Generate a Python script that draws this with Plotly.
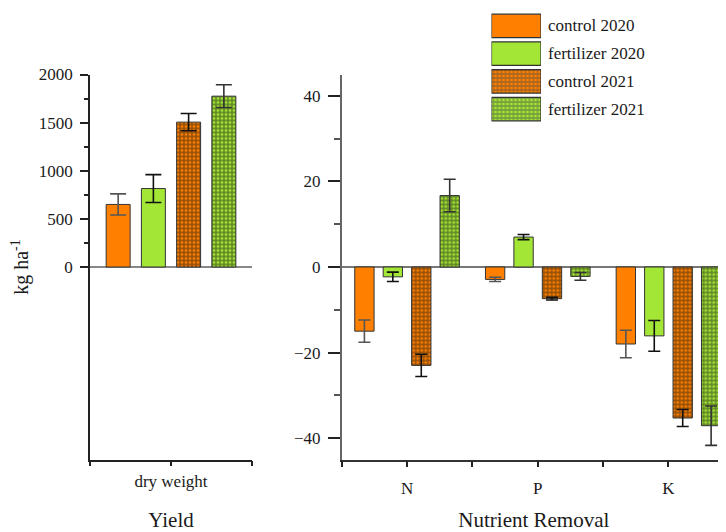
import plotly.graph_objects as go

# ---------------- data ----------------
series_names = ["control 2020", "fertilizer 2020", "control 2021", "fertilizer 2021"]
series_colors = ["#FF8000", "#A3E635", "#FF8000", "#A3E635"]
series_pattern = ["", "", "+", "+"]
err_colors = ["#555555", "#111111", "#111111", "#333333"]

yield_category = ["dry weight"]
yield_values = [[650], [815], [1505], [1775]]
yield_errors = [[110], [145], [90], [118]]

nutrient_categories = ["N", "P", "K"]
nutrient_values = [
    [-15.0, -2.9, -18.0],
    [-2.3, 7.0, -16.1],
    [-23.0, -7.4, -35.3],
    [16.7, -2.2, -37.1],
]
nutrient_errors = [
    [2.6, 0.5, 3.2],
    [1.1, 0.6, 3.6],
    [2.6, 0.3, 2.0],
    [3.8, 0.9, 4.6],
]

yield_ticks = [0, 500, 1000, 1500, 2000]
yield_minor = [250, 750, 1250, 1750]
nutrient_ticks = [-40, -20, 0, 20, 40]
nutrient_minor = [-30, -10, 10, 30]

FONT = "Liberation Serif, Times New Roman, serif"
# page body has an 8px margin: figure sized so it ends at the window edge
OFF = 8
W, H = 726 - OFF, 532 - OFF


def px(x):
    return (x - OFF) / W


def py(y):
    return 1 - (y - OFF) / H


fig = go.Figure()


def pattern(i):
    if series_pattern[i]:
        return dict(shape=series_pattern[i], fgcolor="#141414", bgcolor=series_colors[i],
                    size=4, solidity=0.55, fillmode="overlay")
    return dict(shape="")


for i, name in enumerate(series_names):
    fig.add_trace(go.Bar(
        x=list(range(len(yield_category))), y=yield_values[i], name=name,
        marker=dict(color=series_colors[i], line=dict(color="#333333", width=1), pattern=pattern(i)),
        error_y=dict(type="data", array=yield_errors[i], color=err_colors[i], thickness=1.6, width=8),
        xaxis="x", yaxis="y", showlegend=False,
    ))

for i, name in enumerate(series_names):
    fig.add_trace(go.Bar(
        x=list(range(len(nutrient_categories))), y=nutrient_values[i], name=name,
        marker=dict(color=series_colors[i], line=dict(color="#333333", width=1), pattern=pattern(i)),
        error_y=dict(type="data", array=nutrient_errors[i], color=err_colors[i], thickness=1.6, width=6),
        xaxis="x2", yaxis="y2", showlegend=False,
    ))

# legend swatches (one bar per series on a hidden axis)
fig.add_trace(go.Bar(
    y=list(range(len(series_names))), x=[1] * len(series_names), orientation="h", width=0.84,
    marker=dict(color=series_colors, line=dict(color="#333333", width=1.2),
                pattern=dict(shape=series_pattern, fgcolor="#141414", bgcolor=series_colors,
                             size=4, solidity=0.55, fillmode="overlay")),
    xaxis="x3", yaxis="y3", showlegend=False, hoverinfo="skip",
))

ydom = [py(459.5), py(74.5)]
tickfont = dict(family=FONT, size=17, color="#1a1a1a")
titlefont = dict(family=FONT, size=21, color="#1a1a1a")

fig.update_layout(
    template="none",
    width=W, height=H,
    margin=dict(l=0, r=0, t=0, b=0, autoexpand=False),
    paper_bgcolor="white", plot_bgcolor="white",
    barmode="group", bargap=0.13, bargroupgap=0.32,
    font=dict(family=FONT, size=17, color="#1a1a1a"),
    xaxis=dict(
        domain=[px(90), px(252)], range=[-0.5, 0.5], automargin=False,
        tickvals=[-0.5, 0, 0.5], ticktext=["", yield_category[0], ""],
        ticks="outside", ticklen=5, tickwidth=1.5, tickcolor="#222",
        showline=True, linecolor="#222", linewidth=1.6, showgrid=False, zeroline=False,
        tickfont=tickfont, anchor="y",
        title=dict(text="Yield", font=titlefont, standoff=30),
    ),
    yaxis=dict(
        domain=ydom, range=[-2000, 2000], automargin=False,
        tickvals=yield_ticks, ticks="outside", ticklen=8, tickwidth=1.5, tickcolor="#222",
        ticklabelstandoff=4,
        minor=dict(tickvals=yield_minor, ticks="outside", ticklen=4, tickwidth=1.5, tickcolor="#222"),
        showline=True, linecolor="#222", linewidth=1.6, showgrid=False,
        zeroline=True, zerolinecolor="#888888", zerolinewidth=1.6,
        tickfont=tickfont, anchor="x",
        title=dict(text="kg ha<sup>-1</sup>", font=dict(family=FONT, size=20, color="#1a1a1a"), standoff=5),
    ),
    xaxis2=dict(
        domain=[px(341.7), 1.0], range=[-0.5, 2.44], automargin=False,
        tickvals=[-0.5, 0, 0.5, 1, 1.5, 2], ticktext=["", "N", "", "P", "", "K"],
        ticks="outside", ticklen=6, tickwidth=1.5, tickcolor="#222",
        ticklabelstandoff=6,
        showline=True, linecolor="#333", linewidth=1.6, showgrid=False, zeroline=False,
        tickfont=tickfont, anchor="y2",
        title=dict(text="Nutrient Removal", font=titlefont, standoff=25),
    ),
    yaxis2=dict(
        domain=ydom, range=[-45, 45], automargin=False,
        tickvals=nutrient_ticks, ticks="outside", ticklen=12, tickwidth=1.5, tickcolor="#222",
        ticklabelstandoff=4,
        minor=dict(tickvals=nutrient_minor, ticks="outside", ticklen=6, tickwidth=1.5, tickcolor="#555"),
        showline=True, linecolor="#666", linewidth=1.6, showgrid=False,
        zeroline=True, zerolinecolor="#777777", zerolinewidth=1.6,
        tickfont=tickfont, anchor="x2",
    ),
    xaxis3=dict(domain=[px(491.5), px(541)], range=[0, 1], visible=False, fixedrange=True,
                automargin=False, anchor="y3"),
    yaxis3=dict(domain=[py(123), py(12)], range=[3.5, -0.5], visible=False, fixedrange=True,
                automargin=False, anchor="x3"),
)

for i, name in enumerate(series_names):
    yc = 12 + 27.75 * (i + 0.5)
    fig.add_annotation(
        x=px(546), y=py(yc), xref="paper", yref="paper",
        text=name, showarrow=False, xanchor="left", yanchor="middle",
        font=dict(family=FONT, size=17, color="#1a1a1a"),
    )

fig.write_html("out.html")
